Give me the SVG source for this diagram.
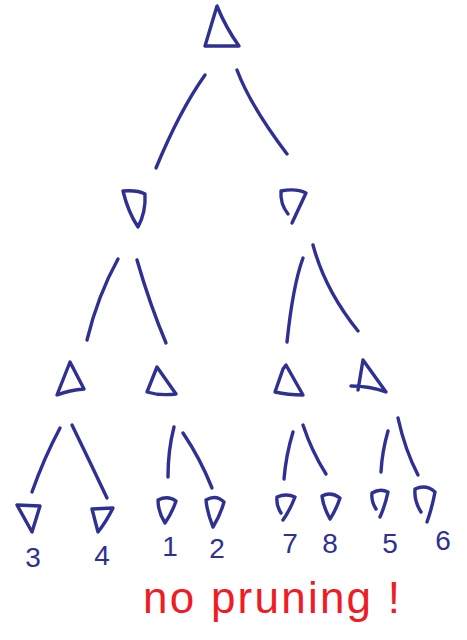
<svg xmlns="http://www.w3.org/2000/svg" width="467" height="640" viewBox="0 0 467 640">
<style>
.s{fill:none;stroke:#2e3192;stroke-width:3.4;stroke-linecap:round;stroke-linejoin:round}
.n{font-family:"Liberation Sans","DejaVu Sans",sans-serif;font-size:28px;fill:#2e3192;text-anchor:middle}
.r{font-family:"Liberation Sans","DejaVu Sans",sans-serif;font-size:44px;fill:#ee1c24}
</style>
<rect width="467" height="640" fill="#fff"/>
<g id="connectors" class="s">
<path d="M205,75 Q180,110 156,168"/>
<path d="M237,70 Q250,105 287,154"/>
<path d="M118,259 Q98,295 87,340"/>
<path d="M137,260 Q150,305 166,343"/>
<path d="M303,258 Q293,285 287,342"/>
<path d="M313,245 Q325,290 358,331"/>
<path d="M60,428 Q44,458 32,492"/>
<path d="M72,425 Q90,462 107,498"/>
<path d="M174,427 Q168,450 168,477"/>
<path d="M183,433 Q200,458 212,488"/>
<path d="M293,432 Q286,455 284,479"/>
<path d="M303,425 Q312,452 326,474"/>
<path d="M388,431 Q382,452 381,472"/>
<path d="M398,418 Q405,450 418,475"/>
</g>
<g id="root"><path class="s" d="M217,6 L205,46 L239,46 Q226,28 217,6 Z"/></g>
<g id="min-left"><path class="s" d="M123,191 Q138,190 145,194 Q146,212 138,227 Q128,212 123,191 Z"/></g>
<g id="min-right"><path class="s" d="M288,214 Q280,204 281,191 Q296,188 306,193 Q299,208 292,223"/></g>
<g id="max-1"><path class="s" d="M70,362 L57,395 Q70,390 84,389 Z"/></g>
<g id="max-2"><path class="s" d="M157,367 L147,392 Q160,396 176,394 Z"/></g>
<g id="max-3"><path class="s" d="M286,365 L283,369 L275,392 Q288,395 303,395 Z"/></g>
<g id="max-4"><path class="s" d="M363,360 L358,390 M351,386 Q370,386 386,392 L363,360"/></g>
<g id="leaf-3"><path class="s" d="M17,505 L40,506 L32,532 Z"/><text class="n" x="33" y="567">3</text></g>
<g id="leaf-4"><path class="s" d="M92,509 L113,508 Q106,522 98,532 Z"/><text class="n" x="102" y="565">4</text></g>
<g id="leaf-1"><path class="s" d="M158,500 Q168,495 176,501 Q172,513 165,523 Q158,512 158,500 Z"/><text class="n" x="170" y="556">1</text></g>
<g id="leaf-2"><path class="s" d="M206,500 Q216,494 224,502 Q220,516 213,527 Q207,512 206,500 Z"/><text class="n" x="217" y="558">2</text></g>
<g id="leaf-7"><path class="s" d="M281,513 Q276,505 277,497 Q286,493 295,497 Q290,510 283,520"/><text class="n" x="290" y="553">7</text></g>
<g id="leaf-8"><path class="s" d="M322,496 Q331,491 340,498 Q336,510 330,519 Q323,506 322,496 Z"/><text class="n" x="330" y="553">8</text></g>
<g id="leaf-5"><path class="s" d="M376,509 Q371,501 372,493 Q380,488 388,492 Q385,506 380,517"/><text class="n" x="390" y="553">5</text></g>
<g id="leaf-6"><path class="s" d="M421,512 Q414,501 415,489 Q426,484 435,492 Q432,508 427,522"/><text class="n" x="443" y="550">6</text></g>
<text class="r" x="143" y="613" textLength="257" lengthAdjust="spacing">no pruning !</text>
</svg>
